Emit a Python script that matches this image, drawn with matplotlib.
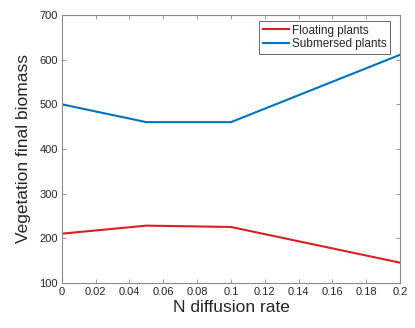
import matplotlib
matplotlib.use("Agg")
import matplotlib.pyplot as plt

x_rate = [0, 0.05, 0.1, 0.2]
floating = [210, 228, 225, 145]
submersed = [500, 460, 460, 611]
xticks = [0, 0.02, 0.04, 0.06, 0.08, 0.1, 0.12, 0.14, 0.16, 0.18, 0.2]
xtick_labels = ["0", "0.02", "0.04", "0.06", "0.08", "0.1", "0.12", "0.14", "0.16", "0.18", "0.2"]
yticks = [100, 200, 300, 400, 500, 600, 700]

plt.rcParams['font.family'] = ['Liberation Sans', 'DejaVu Sans']

fig = plt.figure(figsize=(4.15, 3.28), dpi=100)
ax = fig.add_axes([0.149, 0.138, 0.815, 0.816])

ax.plot(x_rate, floating, color='#D92020', lw=1.5, label='Floating plants')
ax.plot(x_rate, submersed, color='#0072BD', lw=1.5, label='Submersed plants')

ax.set_xlim(0, 0.2)
ax.set_ylim(100, 700)
ax.set_xticks(xticks)
ax.set_xticklabels(xtick_labels)
ax.set_yticks(yticks)

gray = '#262626'
for s in ax.spines.values():
    s.set_color('#8a8a8a')
    s.set_linewidth(0.8)
ax.tick_params(direction='in', top=True, right=True, length=3, width=0.6,
               colors='#8a8a8a', labelcolor=gray, labelsize=8, pad=3)

ax.set_xlabel('N diffusion rate', fontsize=12.5, color=gray, labelpad=2)
ax.set_ylabel('Vegetation final biomass', fontsize=12.5, color=gray, labelpad=6)

leg = ax.legend(loc='upper right', bbox_to_anchor=(0.971, 0.978), fontsize=8.5,
                frameon=True, fancybox=False,
                borderpad=0.3, handlelength=2.2, handletextpad=0.3, labelspacing=0.15,
                borderaxespad=0.0)
leg.get_frame().set_edgecolor('#262626')
leg.get_frame().set_linewidth(0.6)
for t in leg.get_texts():
    t.set_color(gray)

fig.savefig('out.png', dpi=100)
